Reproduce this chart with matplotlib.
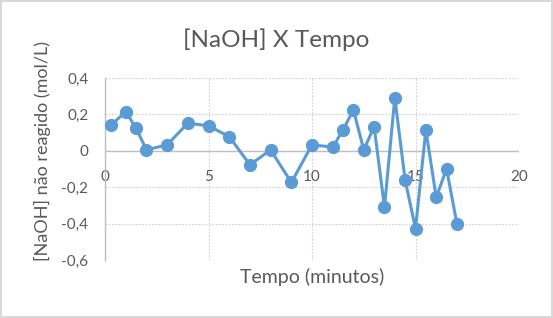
import matplotlib.pyplot as plt
from matplotlib.ticker import FuncFormatter

plt.rcParams['font.family'] = ['Lato', 'DejaVu Sans']

tempo = [0.3, 1, 1.5, 2, 3, 4, 5, 6, 7, 8, 9, 10, 11, 11.5, 12, 12.5,
         13, 13.5, 14, 14.5, 15, 15.5, 16, 16.5, 17]
naoh = [0.142, 0.215, 0.124, 0.005, 0.033, 0.152, 0.137, 0.078, -0.077,
        0.005, -0.174, 0.033, 0.02, 0.115, 0.225, 0.005, 0.133, -0.31,
        0.292, -0.163, -0.427, 0.115, -0.256, -0.099, -0.40]

x_ticks = [0, 5, 10, 15, 20]
y_ticks = [-0.6, -0.4, -0.2, 0, 0.2, 0.4]

fig = plt.figure(figsize=(5.53, 3.18), dpi=100)
fig.patch.set_edgecolor('#d9d9d9')
fig.patch.set_linewidth(1.5)
ax = fig.add_axes([0.19, 0.1824, 0.7485, 0.5723])

ax.plot(tempo, naoh, color='#5b9bd5', linewidth=2.2, marker='o',
        markersize=8.5, zorder=3, clip_on=False)

ax.set_xlim(0, 20)
ax.set_ylim(-0.6, 0.4)
ax.set_xticks(x_ticks)
ax.set_yticks(y_ticks)

fmt = FuncFormatter(lambda v, p: ('%g' % round(v, 2)).replace('.', ','))
ax.xaxis.set_major_formatter(fmt)
ax.yaxis.set_major_formatter(fmt)

ax.grid(True, color='#d0d0d0', linestyle=(0, (1.5, 1.5)), linewidth=0.8)
ax.axhline(0, color='#bfbfbf', linewidth=1, zorder=2)

for s in ['top', 'right', 'bottom']:
    ax.spines[s].set_visible(False)
ax.spines['left'].set_color('#bfbfbf')
ax.spines['left'].set_linewidth(1)

ax.spines['bottom'].set_position(('data', 0))
ax.tick_params(axis='x', length=0, pad=14, labelsize=11, labelcolor='#595959')
ax.tick_params(axis='y', length=0, pad=12, labelsize=11, labelcolor='#595959')

fig.text(0.5, 1 - 40 / 318, '[NaOH] X Tempo', fontsize=17.5, color='#595959',
         ha='center', va='center')
ax.set_xlabel('Tempo (minutos)', fontsize=14, color='#595959')
ax.xaxis.set_label_coords((312 - 105) / 414, -(277 - 260) / 182, transform=ax.transAxes)
ax.xaxis.label.set_va('center')
ax.set_ylabel('[NaOH] não reagido (mol/L)', fontsize=13, color='#595959')
ax.yaxis.set_label_coords(-(105 - 42) / 414, (260 - 151) / 182)
ax.yaxis.label.set_va('center')

fig.savefig('out.png', dpi=100)
